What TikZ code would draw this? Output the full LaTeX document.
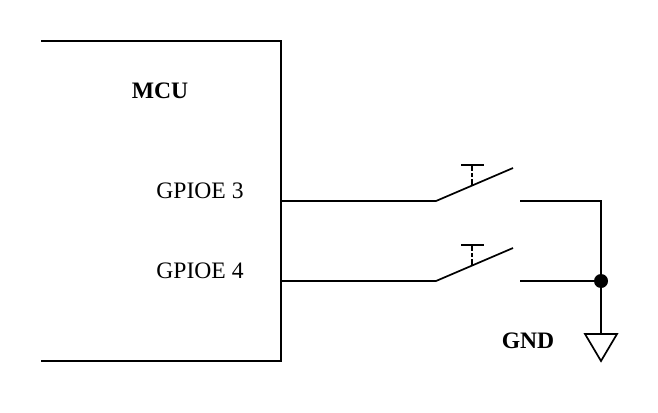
\documentclass[tikz,border=0pt]{standalone}
\usepackage{fontspec}
\setmainfont{Liberation Serif}
\tikzset{wire/.style={line width=1.7pt,black},dashwire/.style={line width=1.4pt,black,dash pattern=on 6pt off 2pt on 4pt off 2pt},lbl/.style={inner sep=0pt,font=\fontsize{23.6}{26}\selectfont},blbl/.style={lbl,font=\fontsize{23.6}{26}\selectfont\bfseries}}
\begin{document}
\begin{tikzpicture}[x=1pt,y=-1pt,line join=miter]
\useasboundingbox (0,0) rectangle (658,412);
\coordinate (a) at (41,41);\coordinate (b) at (281,41);\coordinate (c) at (281,361);\coordinate (d) at (41,361);
\draw[wire] (a)--(b)--(c)--(d);
\node[blbl] (mcu) at (160,90.5) {MCU};
\node[lbl] (g3) at (200,190.5) {GPIOE 3};
\node[lbl] (g4) at (200,270.5) {GPIOE 4};
\node[blbl] (gnd) at (528,340.5) {GND};
\coordinate (p1) at (281,201);\coordinate (s1) at (436,201);\coordinate (e1) at (513,168);\coordinate (t1) at (520,201);\coordinate (r1) at (601,201);
\coordinate (p2) at (281,281);\coordinate (s2) at (436,281);\coordinate (e2) at (513,248);\coordinate (t2) at (520,281);
\coordinate (j) at (601,281);\coordinate (g) at (601,334);
\draw[wire] (p1)--(s1)--(e1);\draw[wire] (t1)--(r1)--(g);
\draw[wire] (p2)--(s2)--(e2);\draw[wire] (t2)--(j);
\draw[dashwire] (472,165)--(472,185);
\draw[wire] (461,165)--(484,165);
\draw[dashwire] (472,245)--(472,265);
\draw[wire] (461,245)--(484,245);
\fill (j) circle (7);
\draw[wire] (585,334)--(617,334)--(601,361)--cycle;
\end{tikzpicture}
\end{document}
